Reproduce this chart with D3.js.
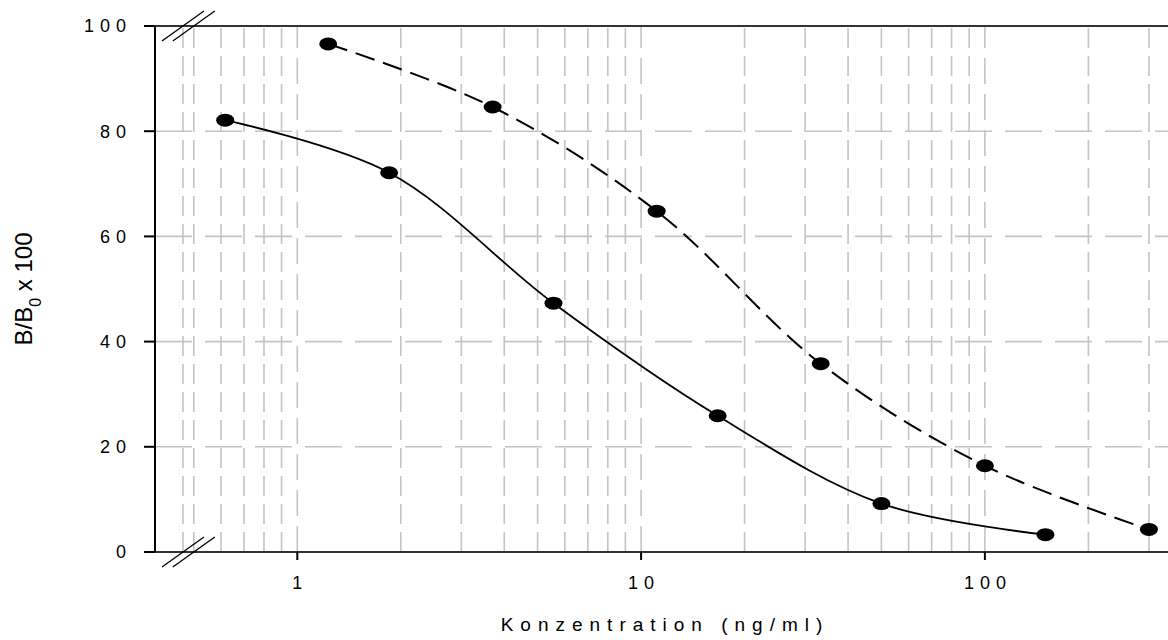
<!DOCTYPE html>
<html><head><meta charset="utf-8">
<script src="https://cdn.jsdelivr.net/npm/d3@7"></script>
<style>
html,body{margin:0;padding:0;background:#fff;}
svg{display:block;font-family:"Liberation Sans",Arial,sans-serif;}
</style></head>
<body>
<svg id="chart" width="1168" height="640"></svg>
<script>
// ---- data ----
const xMajorTicks = [1, 10, 100];
const xMajorLabels = ["1", "10", "100"];
const xMinorGrid = [0.5,0.6,0.7,0.8,0.9,2,3,4,5,6,7,8,9,20,30,40,50,60,70,80,90,200,300];
const xBreak = [0.465, 0.5];
const yTicks = [0, 20, 40, 60, 80, 100];
const yGrid = [20, 40, 60, 80];
const solidX = [0.617, 1.85, 5.56, 16.7, 50, 150];
const solidY = [82.1, 72.1, 47.3, 25.9, 9.2, 3.3];
const dashedX = [1.23, 3.7, 11.1, 33.3, 100, 300];
const dashedY = [96.6, 84.6, 64.8, 35.8, 16.4, 4.3];

// ---- layout ----
const W = 1168, H = 640;
const axisLeft = 155, axisLineStart = 144, axisRight = 1168;
const svg = d3.select("#chart");
const x = d3.scaleLog().domain([1, 100]).range([297.3, 984.9]);
const y = d3.scaleLinear().domain([0, 100]).range([552, 26]);

const grid = svg.append("g");
// horizontal grid
grid.selectAll("line.hg").data(yGrid).join("line")
  .attr("x1", axisLeft).attr("x2", axisRight)
  .attr("y1", d => y(d)).attr("y2", d => y(d))
  .attr("stroke", "#c4c4c4").attr("stroke-width", 1.6)
  .attr("stroke-dasharray", "37,13");
// vertical minor grid + break edge
grid.selectAll("line.vg").data(xMinorGrid.concat([xBreak[0]])).join("line")
  .attr("x1", d => x(d)).attr("x2", d => x(d))
  .attr("y1", y(0)).attr("y2", y(100))
  .attr("stroke", "#c4c4c4").attr("stroke-width", 1.6)
  .attr("stroke-dasharray", "20,8");
// vertical major grid
grid.selectAll("line.vm").data(xMajorTicks).join("line")
  .attr("x1", d => x(d)).attr("x2", d => x(d))
  .attr("y1", y(0)).attr("y2", y(100))
  .attr("stroke", "#c4c4c4").attr("stroke-width", 1.6)
  .attr("stroke-dasharray", "26,10");

// curves
const line = d3.line().curve(d3.curveCatmullRom.alpha(0.5));
const solidPts = solidX.map((v, i) => [x(v), y(solidY[i])]);
const dashedPts = dashedX.map((v, i) => [x(v), y(dashedY[i])]);
svg.append("path").attr("d", line(solidPts)).attr("fill", "none")
  .attr("stroke", "#000").attr("stroke-width", 1.8);
svg.append("path").attr("d", line(dashedPts)).attr("fill", "none")
  .attr("stroke", "#000").attr("stroke-width", 2).attr("stroke-dasharray", "20,9");

// markers
svg.append("g").selectAll("ellipse").data(solidPts.concat(dashedPts)).join("ellipse")
  .attr("cx", d => d[0]).attr("cy", d => d[1]).attr("rx", 9).attr("ry", 6.5)
  .attr("fill", "#000");

// axes frame
svg.append("line").attr("x1", axisLineStart).attr("x2", axisRight)
  .attr("y1", y(100)).attr("y2", y(100)).attr("stroke", "#333").attr("stroke-width", 2);
svg.append("line").attr("x1", axisLineStart).attr("x2", axisRight)
  .attr("y1", y(0)).attr("y2", y(0)).attr("stroke", "#333").attr("stroke-width", 2);
svg.append("line").attr("x1", axisLeft).attr("x2", axisLeft)
  .attr("y1", y(0)).attr("y2", y(100)).attr("stroke", "#000").attr("stroke-width", 2);

// y ticks
svg.append("g").selectAll("line").data(yTicks).join("line")
  .attr("x1", axisLineStart).attr("x2", axisLeft)
  .attr("y1", d => y(d)).attr("y2", d => y(d))
  .attr("stroke", "#000").attr("stroke-width", 2);
svg.append("g").selectAll("text").data(yTicks).join("text")
  .attr("x", 132).attr("y", d => y(d)).attr("dy", "0.35em")
  .attr("text-anchor", "end").attr("font-size", 18).attr("letter-spacing", 6)
  .attr("fill", "#000").text(d => d);

// x ticks
svg.append("g").selectAll("line").data(xMajorTicks).join("line")
  .attr("x1", d => x(d)).attr("x2", d => x(d))
  .attr("y1", y(0)).attr("y2", y(0) + 8)
  .attr("stroke", "#000").attr("stroke-width", 2);
svg.append("g").selectAll("text").data(xMajorTicks).join("text")
  .attr("x", d => x(d) + 3).attr("y", 589)
  .attr("text-anchor", "middle").attr("font-size", 18).attr("letter-spacing", 6)
  .attr("fill", "#000").text((d, i) => xMajorLabels[i]);

// axis break marks
const brk = svg.append("g");
[y(100), y(0)].forEach(yy => {
  brk.selectAll(null).data(xBreak).join("line")
    .attr("x1", d => x(d) - 21).attr("y1", yy + 15)
    .attr("x2", d => x(d) + 21).attr("y2", yy - 15)
    .attr("stroke", "#000").attr("stroke-width", 1.3);
});

// axis titles
svg.append("text").attr("x", 665).attr("y", 631)
  .attr("text-anchor", "middle").attr("font-size", 19).attr("letter-spacing", 7)
  .attr("fill", "#000").text("Konzentration (ng/ml)");
const yt = svg.append("text").attr("transform", "translate(32,289) rotate(-90)")
  .attr("text-anchor", "middle").attr("font-size", 24).attr("fill", "#000");
yt.append("tspan").text("B/B");
yt.append("tspan").attr("font-size", 16).attr("dy", 9).text("0");
yt.append("tspan").attr("dy", -9).text(" x 100");
</script>
</body></html>
